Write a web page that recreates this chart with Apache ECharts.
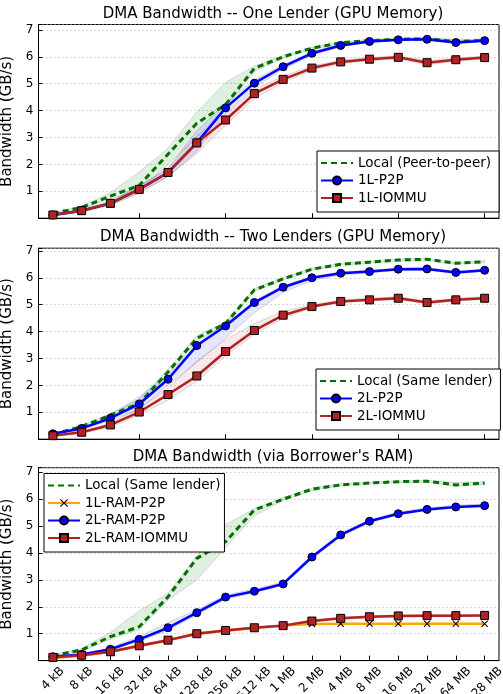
<!DOCTYPE html>
<html><head><meta charset="utf-8">
<script src="https://cdn.jsdelivr.net/npm/echarts@6/dist/echarts.min.js"></script>
<style>html,body{margin:0;padding:0;background:#fff}#c{width:503px;height:694px}</style>
</head><body><div id="c"></div>
<script>
const categories = ['4 kB','8 kB','16 kB','32 kB','64 kB','128 kB','256 kB','512 kB','1 MB','2 MB','4 MB','8 MB','16 MB','32 MB','64 MB','128 MB'];
const titles = ['DMA Bandwidth -- One Lender (GPU Memory)','DMA Bandwidth -- Two Lenders (GPU Memory)',"DMA Bandwidth (via Borrower's RAM)"];
const yName = 'Bandwidth (GB/s)';

// Panel 1
const p1Local = [0.18,0.4,0.82,1.22,2.38,3.53,4.22,5.57,6.0,6.32,6.52,6.6,6.65,6.67,6.56,6.62];
const p1P2P   = [0.12,0.28,0.55,1.07,1.7,2.8,4.1,5.02,5.63,6.13,6.42,6.57,6.63,6.65,6.53,6.6];
const p1IOMMU = [0.12,0.28,0.55,1.07,1.7,2.8,3.65,4.63,5.16,5.58,5.81,5.91,5.98,5.78,5.89,5.97];
const p1LocalLo = [0.15,0.35,0.72,1.0,2.0,3.0,4.12,5.45,5.95,6.28,6.48,6.55,6.6,6.6,6.5,6.58];
const p1LocalHi = [0.2,0.45,0.95,1.72,2.6,3.95,5.05,5.65,6.05,6.35,6.55,6.65,6.7,6.72,6.65,6.66];
const p1P2PLo = [0.1,0.25,0.5,0.95,1.55,2.48,3.9,4.85,5.55,6.05,6.38,6.53,6.6,6.62,6.48,6.56];
const p1P2PHi = [0.15,0.32,0.62,1.2,1.85,3.25,4.3,5.15,5.7,6.2,6.47,6.62,6.66,6.7,6.6,6.64];
const p1IOMMULo = [0.08,0.22,0.48,0.92,1.55,2.4,3.45,4.45,5.05,5.5,5.75,5.85,5.92,5.7,5.83,5.92];
const p1IOMMUHi = [0.15,0.33,0.62,1.2,1.85,3.05,3.85,4.8,5.28,5.66,5.88,5.97,6.04,5.86,5.95,6.03];

// Panel 2
const p2Local = [0.18,0.47,0.9,1.33,2.5,3.75,4.3,5.55,5.96,6.32,6.5,6.58,6.66,6.69,6.54,6.6];
const p2P2P   = [0.2,0.4,0.78,1.31,2.23,3.48,4.21,5.08,5.65,6.0,6.17,6.23,6.32,6.33,6.2,6.28];
const p2IOMMU = [0.13,0.26,0.53,1.01,1.66,2.35,3.26,4.04,4.61,4.93,5.12,5.18,5.24,5.08,5.18,5.24];
const p2LocalLo = [0.16,0.42,0.85,1.2,2.4,3.65,4.25,5.5,5.92,6.28,6.47,6.55,6.62,6.64,6.5,6.56];
const p2LocalHi = [0.2,0.5,0.95,1.5,2.6,3.85,4.35,5.6,6.0,6.36,6.54,6.62,6.7,6.72,6.58,6.64];
const p2P2PLo = [0.17,0.35,0.7,1.1,2.0,2.85,3.75,4.7,5.45,5.9,6.1,6.18,6.27,6.28,6.15,6.23];
const p2P2PHi = [0.22,0.43,0.85,1.6,2.35,3.55,4.3,5.15,5.72,6.05,6.22,6.28,6.36,6.38,6.25,6.32];
const p2IOMMULo = [0.1,0.22,0.45,0.9,1.45,2.15,3.1,3.9,4.5,4.88,5.08,5.14,5.2,5.03,5.13,5.2];
const p2IOMMUHi = [0.16,0.3,0.6,1.15,1.9,2.9,3.7,4.3,4.75,5.0,5.17,5.24,5.3,5.14,5.24,5.3];

// Panel 3
const p3Local   = [0.18,0.4,0.89,1.26,2.37,3.8,4.42,5.6,6.0,6.37,6.53,6.6,6.65,6.67,6.53,6.6];
const p3RamP2P1 = [0.1,0.18,0.33,0.54,0.76,1.0,1.12,1.22,1.3,1.36,1.37,1.37,1.37,1.37,1.37,1.37];
const p3RamP2P2 = [0.14,0.23,0.42,0.79,1.22,1.78,2.36,2.58,2.85,3.85,4.67,5.18,5.46,5.62,5.71,5.76];
const p3RamIOMMU = [0.12,0.2,0.33,0.55,0.76,1.0,1.12,1.22,1.3,1.47,1.57,1.63,1.66,1.67,1.67,1.68];
const p3LocalLo = [0.15,0.35,0.8,1.15,2.25,3.0,4.2,5.38,5.95,6.32,6.5,6.57,6.62,6.63,6.48,6.55];
const p3LocalHi = [0.2,0.45,1.05,1.85,2.5,3.9,5.05,5.65,6.05,6.42,6.57,6.63,6.68,6.7,6.62,6.65];
const p3P2P2Lo = [0.11,0.2,0.38,0.72,1.12,1.7,2.28,2.52,2.8,3.78,4.6,5.12,5.42,5.58,5.67,5.72];
const p3P2P2Hi = [0.17,0.26,0.48,0.9,1.42,1.88,2.44,2.66,2.92,3.92,4.74,5.24,5.52,5.68,5.78,5.82];
const p3IOMMULo = [0.09,0.17,0.3,0.51,0.72,0.96,1.08,1.18,1.26,1.43,1.53,1.59,1.62,1.63,1.63,1.64];
const p3IOMMUHi = [0.15,0.23,0.37,0.6,0.8,1.05,1.16,1.26,1.34,1.51,1.61,1.67,1.7,1.71,1.71,1.72];

const FONT = 'DejaVu Sans';
const TICK_FS = 12, LEG_FS = 13.5, TITLE_FS = 15;
const GREEN = '#007000', BLUE = '#0000ff', RED = '#b22222', ORANGE = '#ffa500';
const XSYM = 'path://M0,1L1,0L5,4L9,0L10,1L6,5L10,9L9,10L5,6L1,10L0,9L4,5Z';

const grids = [
  {left: 38.5, right: 4, top: 24.5, height: 193.7},
  {left: 38.5, right: 4, top: 248.2, height: 191},
  {left: 38.5, right: 4, top: 467.7, height: 192.9}
];
const yMax = [7.2, 7.1, 7.17];
const titleTops = [7, 230, 450];

function mk(name, data, gi, color, symbol, dashed) {
  return {
    name, type: 'line', data, xAxisIndex: gi, yAxisIndex: gi, z: 5,
    symbol: symbol || 'none', symbolSize: symbol === XSYM ? 7 : 8, showSymbol: !!symbol,
    lineStyle: {color, width: dashed ? 3 : 2.5, type: dashed ? [6, 4] : 'solid'},
    itemStyle: symbol === XSYM ? {color: '#000', borderWidth: 0} : {color, borderColor: '#000', borderWidth: 1},
    emphasis: {disabled: true}, silent: true
  };
}
let bandId = 0;
function band(lo, hi, gi, fill) {
  const id = 'band' + (bandId++);
  const diff = hi.map((h, i) => +(h - lo[i]).toFixed(3));
  const edge = {color: 'rgba(0,0,0,0.13)', width: 1};
  return [
    {name: id + 'lo', type: 'line', data: lo, stack: id, xAxisIndex: gi, yAxisIndex: gi, z: 1,
     symbol: 'none', lineStyle: edge, silent: true, emphasis: {disabled: true}},
    {name: id + 'hi', type: 'line', data: diff, stack: id, xAxisIndex: gi, yAxisIndex: gi, z: 1,
     symbol: 'none', lineStyle: edge, areaStyle: {color: fill, opacity: 1}, silent: true, emphasis: {disabled: true}}
  ];
}
const GF = 'rgba(0,128,0,0.12)', BF = 'rgba(60,60,255,0.13)', RF = 'rgba(200,40,40,0.10)';

const series = [
  ...band(p1LocalLo, p1LocalHi, 0, GF), ...band(p1P2PLo, p1P2PHi, 0, BF), ...band(p1IOMMULo, p1IOMMUHi, 0, RF),
  mk('Local (Peer-to-peer)', p1Local, 0, GREEN, null, true),
  mk('1L-P2P', p1P2P, 0, BLUE, 'circle'),
  mk('1L-IOMMU', p1IOMMU, 0, RED, 'rect'),
  ...band(p2LocalLo, p2LocalHi, 1, GF), ...band(p2P2PLo, p2P2PHi, 1, BF), ...band(p2IOMMULo, p2IOMMUHi, 1, RF),
  mk('Local (Same lender)', p2Local, 1, GREEN, null, true),
  mk('2L-P2P', p2P2P, 1, BLUE, 'circle'),
  mk('2L-IOMMU', p2IOMMU, 1, RED, 'rect'),
  ...band(p3LocalLo, p3LocalHi, 2, GF), ...band(p3P2P2Lo, p3P2P2Hi, 2, BF), ...band(p3IOMMULo, p3IOMMUHi, 2, RF),
  mk('Local (Same lender) ', p3Local, 2, GREEN, null, true),
  mk('1L-RAM-P2P', p3RamP2P1, 2, ORANGE, XSYM),
  mk('2L-RAM-P2P', p3RamP2P2, 2, BLUE, 'circle'),
  mk('2L-RAM-IOMMU', p3RamIOMMU, 2, RED, 'rect')
];

const legendBase = {
  orient: 'vertical', itemWidth: 32, itemHeight: 10, itemGap: 3.5, padding: [5, 4, 7, 3],
  borderColor: '#000', borderWidth: 1, backgroundColor: '#fff', selectedMode: false,
  textStyle: {fontFamily: FONT, fontSize: LEG_FS, color: '#000'}, z: 10
};
const hideSym = {opacity: 0};

// per-label rich padding so rotated labels hang like centred matplotlib labels
const mctx = document.createElement('canvas').getContext('2d');
mctx.font = TICK_FS + 'px "DejaVu Sans"';
const w0 = mctx.measureText(categories[0]).width;
const rich = {};
categories.forEach((c, i) => {
  const p = Math.max(0, 0.5 * (mctx.measureText(c).width - w0));
  rich['l' + i] = {fontFamily: FONT, fontSize: TICK_FS, color: '#000', padding: [p, p, 0, 0]};
});

const option = {
  animation: false,
  backgroundColor: '#fff',
  textStyle: {fontFamily: FONT},
  title: titles.map((t, i) => ({
    text: t, left: 273, top: titleTops[i], textAlign: 'center', padding: 0,
    textStyle: {fontFamily: FONT, fontSize: TITLE_FS, fontWeight: 'normal', color: '#000'}
  })),
  grid: grids.map(g => Object.assign({show: true, borderColor: '#000', borderWidth: 1, backgroundColor: 'transparent',
    outerBoundsMode: 'none', containLabel: false}, g)),
  legend: [
    Object.assign({}, legendBase, {left: 317, top: 151, padding: [5, 8, 7, 3],
      data: [{name: 'Local (Peer-to-peer)', itemStyle: hideSym}, '1L-P2P', '1L-IOMMU']}),
    Object.assign({}, legendBase, {left: 316, top: 369, padding: [5, 8, 7, 3],
      data: [{name: 'Local (Same lender)', itemStyle: hideSym}, '2L-P2P', '2L-IOMMU']}),
    Object.assign({}, legendBase, {left: 44, top: 473.5, data: [{name: 'Local (Same lender) ', itemStyle: hideSym}, '1L-RAM-P2P', '2L-RAM-P2P', '2L-RAM-IOMMU'],
      formatter: n => n.trim()})
  ],
  xAxis: [0, 1, 2].map(i => ({
    type: 'category', gridIndex: i, data: categories, boundaryGap: true,
    axisLine: {show: true, lineStyle: {color: '#000', width: 1}},
    axisTick: {show: true, inside: true, alignWithLabel: true, length: 5, lineStyle: {color: '#000'}},
    splitLine: {show: false},
    axisLabel: i < 2 ? {show: false} : {
      show: true, rotate: 45, align: 'center', verticalAlign: 'middle', margin: 18,
      fontFamily: FONT, fontSize: TICK_FS, color: '#000', interval: 0, hideOverlap: false,
      formatter: (v, idx) => '{l' + idx + '|' + v + '}', rich
    }
  })),
  yAxis: [0, 1, 2].map(i => ({
    type: 'value', gridIndex: i, min: 0, max: yMax[i], interval: 1,
    name: yName, nameLocation: 'middle', nameGap: 18,
    nameTextStyle: {fontFamily: FONT, fontSize: TITLE_FS, color: '#000'},
    axisLine: {show: true, lineStyle: {color: '#000', width: 1}},
    axisTick: {show: true, inside: true, length: 4, lineStyle: {color: '#000'}},
    axisLabel: {fontFamily: FONT, fontSize: TICK_FS, color: '#000', margin: 5,
      formatter: v => (v > 0 && Math.abs(v - Math.round(v)) < 1e-6) ? String(Math.round(v)) : ''},
    splitLine: {show: true, lineStyle: {color: '#b0b0b0', type: [1, 3], width: 1}}
  })),
  series
};
const chart = echarts.init(document.getElementById('c'), null, {renderer: 'canvas'});
chart.setOption(option);
</script></body></html>
